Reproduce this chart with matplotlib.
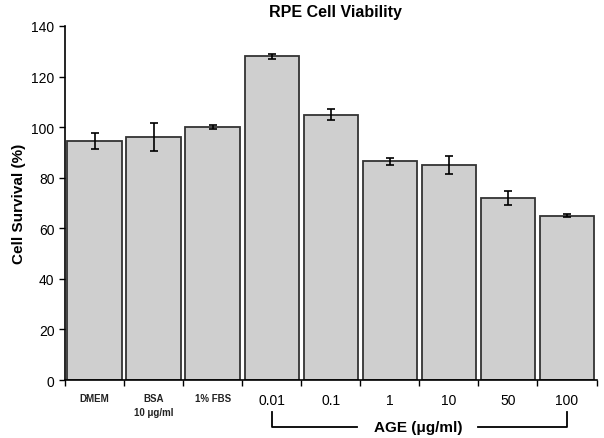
import numpy as np
import matplotlib
matplotlib.use("Agg")
import matplotlib.pyplot as plt

plt.rcParams['font.family'] = ['Liberation Sans', 'DejaVu Sans']

categories = ['DMEM', 'BSA\n10 \u03bcg/ml', '1% FBS', '0.01', '0.1', '1', '10', '50', '100']
survival = [94.5, 96, 100, 128, 105, 86.5, 85, 72, 65]
errors = [3, 5.5, 0.7, 1.0, 2.0, 1.5, 3.5, 2.8, 0.5]

fig = plt.figure(figsize=(6.04, 4.39), dpi=100)
ax = fig.add_axes([0.1076, 0.132, 0.880, 0.8065])

x = np.arange(len(categories))
ax.bar(x, survival, width=0.92, color='#cfcfcf', edgecolor='#333333', linewidth=1.3,
       yerr=errors, error_kw=dict(ecolor='black', elinewidth=1.2, capsize=3, capthick=1.2))

ax.set_xlim(-0.5, len(categories) - 0.5)
ax.set_ylim(0, 140)
ax.set_yticks(range(0, 141, 20))
ax.tick_params(axis='y', labelsize=10, direction='out', length=4, width=1)

# ticks at category boundaries, labels centred
ax.set_xticks(np.arange(-0.5, len(categories), 1.0))
ax.set_xticklabels([])
ax.tick_params(axis='x', direction='out', length=4, width=1)
for i, lab in enumerate(categories):
    if i < 3:
        ax.text(i, -5, lab, ha='center', va='top', fontsize=7, fontweight='bold',
                color='#222222', linespacing=1.6)
    else:
        ax.text(i, -5, lab, ha='center', va='top', fontsize=10)

for s in ['top', 'right']:
    ax.spines[s].set_visible(False)
ax.spines['left'].set_linewidth(1.2)
ax.spines['bottom'].set_linewidth(1.2)

fig.text(335 / 604, 1 - 13 / 439, 'RPE Cell Viability', ha='center', va='center',
         fontsize=11.5, fontweight='bold')
ax.set_ylabel('Cell Survival (%)', fontsize=11, fontweight='bold', labelpad=4)

# bracket for AGE concentrations
yb = -18.6
yt = -12.7
ax.plot([3, 3, 4.45], [yt, yb, yb], color='black', lw=1.3, clip_on=False)
ax.plot([6.5, 8, 8], [yb, yb, yt], color='black', lw=1.3, clip_on=False)
ax.text(5.49, yb, 'AGE (\u03bcg/ml)', ha='center', va='center', fontsize=11, fontweight='bold')

fig.savefig('out.png', dpi=100)
